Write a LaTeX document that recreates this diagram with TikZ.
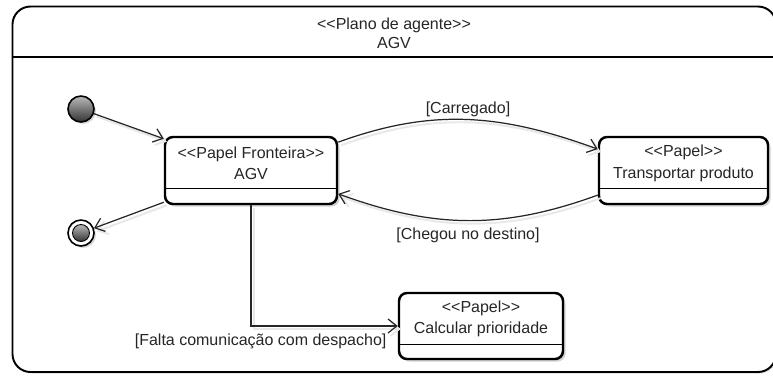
\documentclass[tikz,border=0pt]{standalone}
\usepackage{fontspec}
\newfontfamily\umlfont{Liberation Sans}
\usepackage{tikz}
\usetikzlibrary{positioning,arrows.meta,shadows,calc}

\begin{document}
\begin{tikzpicture}[>={Straight Barb[length=5pt,width=8pt]},
    papel/.style={draw=black, line width=1.4pt, rounded corners=0.16cm, fill=white,
        minimum width=3.44cm, minimum height=1.34cm,
        drop shadow={shadow xshift=0.05cm, shadow yshift=-0.05cm, fill=black!18, opacity=1}},
    texto/.style={font=\umlfont\fontsize{9.1}{12.2}\selectfont, align=center, text=black!85},
    rotulo/.style={font=\umlfont\fontsize{9.1}{10.8}\selectfont, inner sep=1pt, text=black!85},
    transicao/.style={->, line width=0.7pt, draw=black!85,
        preaction={draw=black!9, line width=1.1pt, transform canvas={shift={(0.06cm, -0.06cm)}}}}]
    \useasboundingbox (0, 0) rectangle (15.46, -7.52);

    % Plano de agente
    \node[draw=black, line width=1.1pt, rounded corners=0.36cm, fill=white,
        minimum width=15.27cm, minimum height=7.31cm,
        drop shadow={shadow xshift=0.03cm, shadow yshift=-0.03cm, fill=black!15, opacity=1}] (plano) at (7.885, -3.785) {};
    \draw[line width=0.8pt] (plano.west |- 0, -1.14) -- (plano.east |- 0, -1.14);
    \node[texto, font=\umlfont\fontsize{9.1}{10.8}\selectfont] (titulo) at (7.88, -0.67) {<<Plano de agente>>\\AGV};

    % Inicio e fim
    \node[circle, draw=black, line width=0.9pt, minimum size=0.52cm, inner sep=0pt,
        top color=gray!55, bottom color=black!80,
        drop shadow={shadow xshift=0.04cm, shadow yshift=-0.04cm, fill=black!15, opacity=1}] (inicio) at (1.62, -2.18) {};
    \node[circle, draw=black, line width=0.9pt, minimum size=0.52cm, inner sep=0pt, fill=white,
        drop shadow={shadow xshift=0.04cm, shadow yshift=-0.04cm, fill=black!15, opacity=1}] (fim) at (1.62, -4.66) {};
    \node[circle, draw=black, line width=0.5pt, minimum size=0.34cm, inner sep=0pt,
        top color=gray!55, bottom color=black!80] (fimcentro) at (fim) {};

    % Papel Fronteira
    \node[papel] (front) at (5.02, -3.41) {};
    \node[texto] (frontnome) at (5.02, -3.27) {<<Papel Fronteira>>\\AGV};
    \draw[line width=0.75pt] ($(front.south west)+(0, 0.34)$) -- ($(front.south east)+(0, 0.34)$);

    % Transportar produto
    \node[papel, minimum width=3.38cm] (transp) at (13.67, -3.41) {};
    \node[texto] (transpnome) at (13.67, -3.27) {<<Papel>>\\Transportar produto};
    \draw[line width=0.75pt] ($(transp.south west)+(0, 0.34)$) -- ($(transp.south east)+(0, 0.34)$);

    % Calcular prioridade
    \node[papel, minimum width=3.28cm, minimum height=1.32cm] (calcular) at (9.62, -6.52) {};
    \node[texto] (calcularnome) at (9.62, -6.38) {<<Papel>>\\Calcular prioridade};
    \draw[line width=0.75pt] ($(calcular.south west)+(0, 0.32)$) -- ($(calcular.south east)+(0, 0.32)$);

    % Transicoes
    \draw[transicao] (inicio) -- (front.160);
    \draw[transicao] (front.200) -- (fim);
    \draw[transicao] (front.18) to[out=20, in=160] node[rotulo, above=0pt] (carregado) {[Carregado]} (transp.166);
    \draw[transicao] (transp.196) to[out=200, in=-20] node[rotulo, below=3pt] (chegou) {[Chegou no destino]} (front.345);
    \draw[transicao] (front.south) |- (calcular.west)
        node[rotulo, pos=1, below left=0.12cm and 0.18cm] (falta) {[Falta comunicação com despacho]};
\end{tikzpicture}
\end{document}
